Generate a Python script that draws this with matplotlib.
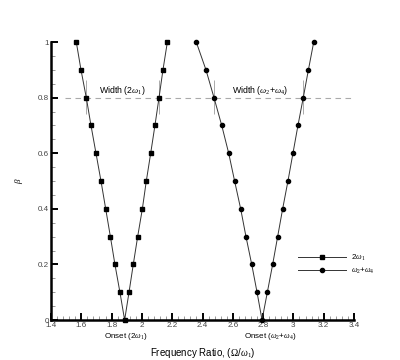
import matplotlib.pyplot as plt
from matplotlib.ticker import MultipleLocator, AutoMinorLocator

plt.rcParams['font.family'] = ['Liberation Sans', 'DejaVu Sans']
plt.rcParams['mathtext.fontset'] = 'custom'
plt.rcParams['mathtext.rm'] = 'Liberation Serif'
plt.rcParams['mathtext.it'] = 'Liberation Serif:italic'

# beta levels (shared by both branches)
beta_down = [1.0, 0.9, 0.8, 0.7, 0.6, 0.5, 0.4, 0.3, 0.2, 0.1, 0.0]
beta_up = [0.1, 0.2, 0.3, 0.4, 0.5, 0.6, 0.7, 0.8, 0.9, 1.0]

# 2*omega_1 branches
sq_left_x = [1.567, 1.598, 1.633, 1.664, 1.697, 1.730, 1.761, 1.792, 1.822, 1.855, 1.886]
sq_right_x = [1.915, 1.943, 1.972, 2.003, 2.029, 2.058, 2.086, 2.113, 2.139, 2.168]

# omega_2 + omega_4 branches
ci_left_x = [2.359, 2.423, 2.476, 2.527, 2.573, 2.612, 2.652, 2.687, 2.725, 2.760, 2.793]
ci_right_x = [2.828, 2.863, 2.896, 2.929, 2.964, 2.997, 3.030, 3.065, 3.099, 3.134]

width_level = 0.8
width_marks_x = [1.633, 2.113, 2.476, 3.065]

sq_x = sq_left_x + sq_right_x
sq_y = beta_down + beta_up
ci_x = ci_left_x + ci_right_x
ci_y = beta_down + beta_up

fig = plt.figure(figsize=(4.0, 3.6), dpi=100)
ax = fig.add_axes([0.1275, 0.111, 0.7575, 0.772])

ax.plot(sq_x, sq_y, color='#333333', lw=0.7, marker='s', ms=3.0,
        mfc='black', mec='black', label=r'2$\omega_1$', clip_on=False, zorder=3)
ax.plot(ci_x, ci_y, color='#333333', lw=0.7, marker='o', ms=3.0,
        mfc='black', mec='black', label=r'$\omega_2$+$\omega_4$', clip_on=False, zorder=3)

# width line and crossing marks
ax.plot([1.492, 3.4], [width_level, width_level], color='#aaaaaa', lw=0.8,
        dashes=(5, 4), zorder=1)
ax.vlines(width_marks_x, 0.74, 0.865, color='#aaaaaa', lw=0.7, zorder=1)

ax.text(1.87, 0.827, r'Width (2$\omega_1$)', fontsize=6.3, ha='center', va='center')
ax.text(2.78, 0.827, r'Width ($\omega_2$+$\omega_4$)', fontsize=6.3, ha='center', va='center')

ax.set_xlim(1.4, 3.4)
ax.set_ylim(0, 1)
ax.xaxis.set_major_locator(MultipleLocator(0.2))
ax.xaxis.set_minor_locator(AutoMinorLocator(5))
ax.yaxis.set_major_locator(MultipleLocator(0.2))
ax.yaxis.set_minor_locator(AutoMinorLocator(4))
ax.set_xticklabels([f'{v:g}' for v in ax.get_xticks()])
ax.set_yticklabels([f'{v:g}' for v in ax.get_yticks()])

ax.tick_params(which='major', direction='in', length=5, width=1.4,
               labelsize=5.8, labelcolor='#444444', pad=1.5)
ax.tick_params(which='minor', direction='in', length=3, width=0.6, color='#888888')

# the y "0" sits just above the axis line so it clears the "1.4"
ax.yaxis.get_major_ticks()[0].label1.set_va('bottom')

for s in ['top', 'right']:
    ax.spines[s].set_visible(False)
for s in ['left', 'bottom']:
    ax.spines[s].set_linewidth(1.8)

ax.text(1.895, -0.058, r'Onset (2$\omega_1$)', fontsize=5.8, ha='center', va='center')
ax.text(2.845, -0.058, r'Onset ($\omega_2$+$\omega_4$)', fontsize=5.8, ha='center', va='center')

ax.set_xlabel(r'Frequency Ratio, ($\Omega$/$\omega_1$)', fontsize=7)
ax.xaxis.set_label_coords(0.5, -0.093)
ax.set_ylabel(r'$\beta$', fontsize=6.5)
ax.yaxis.set_label_coords(-0.085, 0.5)

ax.legend(loc='center left', bbox_to_anchor=(0.79, 0.2), frameon=False,
          fontsize=5.8, handlelength=6, handletextpad=0.6, labelspacing=0.35)

fig.savefig('out.png', dpi=100)
